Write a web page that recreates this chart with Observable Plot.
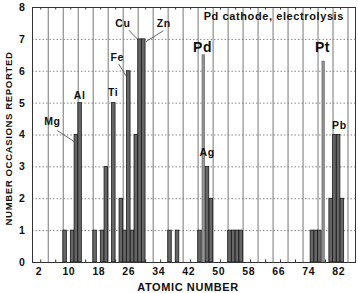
<!DOCTYPE html>
<html><head><meta charset="utf-8">
<script src="https://cdn.jsdelivr.net/npm/d3@7"></script>
<script src="https://cdn.jsdelivr.net/npm/@observablehq/plot@0.6"></script>
<style>
html,body{margin:0;padding:0;background:#fff}
svg text{letter-spacing:0.6px}
</style>
</head><body><div id="chart"></div>
<script>
// Main histogram: atomic number -> number of occasions reported
const atomicNumbers = [9, 11, 12, 13, 17, 19, 20, 22, 24, 25, 26, 27, 28, 29, 30, 37, 39, 45, 47, 48, 53, 54, 55, 56, 75, 76, 77, 80, 81, 82, 83];
const occasions     = [1, 1, 4, 5, 1, 1, 3, 5, 2, 1, 6, 1, 4, 7, 7, 1, 1, 1, 3, 2, 1, 1, 1, 1, 1, 1, 1, 2, 4, 4, 2];
// Cathode element bars (Pd, Pt)
const cathodeNumbers = [46, 78];
const cathodeValues  = [6.5, 6.3];
// Ticks
const xTickLabels = [2, 10, 18, 26, 34, 42, 50, 58, 66, 74, 82];
const yTickLabels = [0, 1, 2, 3, 4, 5, 6, 7, 8];
const xGridLines = [4.5, 8.5, 12.5, 16.5, 20.5, 24.5, 28.5, 32.5, 36.5, 40.5, 44.5, 48.5, 52.5, 56.5, 60.5, 64.5, 68.5, 72.5, 76.5, 80.5, 84.5];
const xMinorTicks = [2.5, 6.5, 10.5, 14.5, 18.5, 22.5, 26.5, 30.5, 34.5, 38.5, 42.5, 46.5, 50.5, 54.5, 58.5, 62.5, 66.5, 70.5, 74.5, 78.5, 82.5];
const yGridLines = [1, 2, 3, 4, 5, 6, 7];
// Element annotations (data coordinates)
const labelText = ["Mg", "Al", "Ti", "Fe", "Cu", "Zn", "Ag", "Pb"];
const labelX    = [5.6, 12.9, 21.8, 22.9, 24.4, 35.3, 46.9, 82.2];
const labelY    = [4.42, 5.23, 5.34, 6.42, 7.48, 7.48, 3.44, 4.29];
const bigLabelText = ["Pd", "Pt"];
const bigLabelX    = [45.7, 77.7];
const bigLabelY    = [6.73, 6.73];
const leaderX1 = [6.9, 23.3, 26.0, 35.2];
const leaderY1 = [4.14, 6.23, 7.29, 7.27];
const leaderX2 = [11.5, 25.6, 28.7, 30.6];
const leaderY2 = [3.79, 5.79, 6.96, 6.93];
const titleText = "Pd cathode, electrolysis";
const titleX = 64.7, titleY = 7.72;

const bars = atomicNumbers.map((z, i) => ({z, n: occasions[i]}));
const cathode = cathodeNumbers.map((z, i) => ({z, n: cathodeValues[i]}));
const labels = labelText.map((t, i) => ({t, x: labelX[i], y: labelY[i]}));
const bigLabels = bigLabelText.map((t, i) => ({t, x: bigLabelX[i], y: bigLabelY[i]}));
const leaders = leaderX1.map((x1, i) => ({x1, y1: leaderY1[i], x2: leaderX2[i], y2: leaderY2[i]}));

const font = "'Liberation Sans', Arial, Helvetica, sans-serif";
const chart = Plot.plot({
  width: 358, height: 293,
  marginTop: 7, marginBottom: 31, marginLeft: 32, marginRight: 3,
  style: {fontFamily: font, background: "#fff", color: "#111"},
  x: {domain: [0.3, 86.5]},
  y: {domain: [0, 8]},
  marks: [
    Plot.ruleY(yGridLines, {stroke: "#888", strokeDasharray: "1.5,2"}),
    Plot.ruleX(xGridLines, {stroke: "#777"}),
    Plot.ruleX(xMinorTicks, {y1: 8, y2: 7.92, stroke: "#333"}),
    Plot.ruleX(xMinorTicks, {y1: 0, y2: 0.08, stroke: "#333"}),
    Plot.rect(bars, {x1: d => d.z - 0.47, x2: d => d.z + 0.47, y1: 0, y2: "n", fill: "#666", stroke: "#1a1a1a", strokeWidth: 0.8}),
    Plot.rect(cathode, {x1: d => d.z - 0.3, x2: d => d.z + 0.3, y1: 0, y2: "n", fill: "#999", stroke: "#666", strokeWidth: 0.8}),
    Plot.link(leaders, {x1: "x1", y1: "y1", x2: "x2", y2: "y2", stroke: "#555", strokeWidth: 0.9}),
    Plot.text(labels, {x: "x", y: "y", text: "t", fontSize: 10.5, fontWeight: "bold", fill: "#111"}),
    Plot.text(bigLabels, {x: "x", y: "y", text: "t", fontSize: 14, fontWeight: "bold", fill: "#111"}),
    Plot.text([titleText], {x: titleX, y: titleY, text: d => d, fontSize: 11, fontWeight: "bold", fill: "#111"}),
    Plot.frame({stroke: "#333"}),
    Plot.axisX({ticks: xTickLabels, tickSize: 0, tickPadding: 5, fontSize: 10.5, fontWeight: "bold", label: null}),
    Plot.axisY({ticks: yTickLabels, tickSize: 0, tickPadding: 7, fontSize: 10.5, fontWeight: "bold", label: null}),
    Plot.text(["ATOMIC NUMBER"], {frameAnchor: "bottom", textAnchor: "middle", lineAnchor: "middle", dy: 25, dx: -6, text: d => d, fontSize: 11, fontWeight: "bold", fill: "#111"}),
    Plot.text(["NUMBER OCCASIONS REPORTED"], {frameAnchor: "left", textAnchor: "middle", lineAnchor: "middle", rotate: -90, dx: -23.5, dy: 3.5, text: d => d, fontSize: 9.6, fontWeight: "bold", fill: "#111"})
  ]
});
document.getElementById("chart").appendChild(chart);
</script>
</body></html>
